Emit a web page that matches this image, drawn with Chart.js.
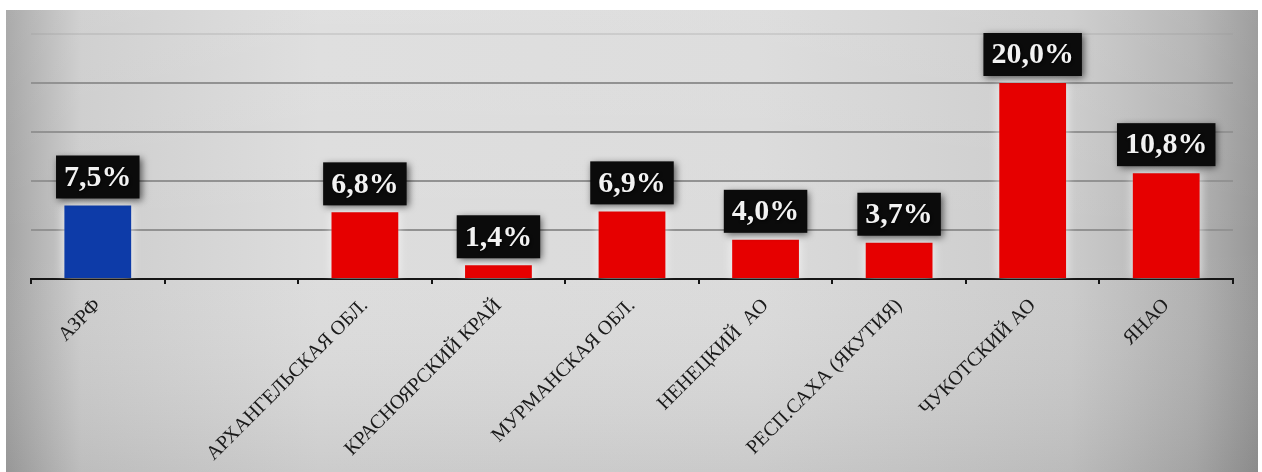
<!DOCTYPE html>
<html lang="ru">
<head>
    <meta charset="UTF-8">
    <title>Доля по регионам</title>
    <script src="https://cdn.jsdelivr.net/npm/chart.js"></script>
    <style>
        html, body {
            margin: 0;
            padding: 0;
            background: #ffffff;
        }
        #regionChart {
            display: block;
        }
    </style>
</head>
<body>
    <canvas id="regionChart" width="1262" height="472"></canvas>

    <script type="text/javascript">
        // регионы (пустая категория между АЗРФ и областями)
        const regions = ['АЗРФ', '', 'АРХАНГЕЛЬСКАЯ ОБЛ.', 'КРАСНОЯРСКИЙ КРАЙ', 'МУРМАНСКАЯ ОБЛ.',
            'НЕНЕЦКИЙ  АО', 'РЕСП.САХА (ЯКУТИЯ)', 'ЧУКОТСКИЙ АО', 'ЯНАО'];
        // значения, %
        const shares = [7.5, null, 6.8, 1.4, 6.9, 4.0, 3.7, 20.0, 10.8];
        // деления оси значений
        const yMax = 25;
        const yStep = 5;

        const BLUE = '#0d3ba8';
        const RED = '#e60000';

        // серый фон с затемнением по краям
        const backgroundPlugin = {
            id: 'grayBackground',
            beforeDraw(chart) {
                const ctx = chart.ctx;
                const W = chart.width, H = chart.height;
                ctx.save();
                ctx.fillStyle = '#ffffff';
                ctx.fillRect(0, 0, W, H);

                const x0 = 6, y0 = 10, x1 = 1258, y1 = H;
                const g = ctx.createLinearGradient(x0, 0, x1, 0);
                g.addColorStop(0, '#a4a4a4');
                g.addColorStop(0.06, '#cdcdcd');
                g.addColorStop(0.25, '#dddddd');
                g.addColorStop(0.6, '#dbdbdb');
                g.addColorStop(0.85, '#cbcbcb');
                g.addColorStop(0.95, '#b1b1b1');
                g.addColorStop(1, '#979797');
                ctx.fillStyle = g;
                ctx.fillRect(x0, y0, x1 - x0, y1 - y0);

                const v = ctx.createLinearGradient(0, y0, 0, y1);
                v.addColorStop(0, 'rgba(255,255,255,0.08)');
                v.addColorStop(0.5, 'rgba(255,255,255,0)');
                v.addColorStop(1, 'rgba(0,0,0,0.08)');
                ctx.fillStyle = v;
                ctx.fillRect(x0, y0, x1 - x0, y1 - y0);
                ctx.restore();
            }
        };

        // лёгкое свечение вокруг столбцов
        const glowPlugin = {
            id: 'barGlow',
            beforeDatasetsDraw(chart) {
                const ctx = chart.ctx;
                ctx.save();
                ctx.shadowColor = 'rgba(255,255,255,0.75)';
                ctx.shadowBlur = 10;
            },
            afterDatasetsDraw(chart) {
                chart.ctx.restore();
            }
        };

        // подписи значений в чёрных плашках
        const valueBoxPlugin = {
            id: 'valueBoxes',
            afterDatasetsDraw(chart) {
                const ctx = chart.ctx;
                const meta = chart.getDatasetMeta(0);
                meta.data.forEach((bar, i) => {
                    const v = shares[i];
                    if (v === null || v === undefined) return;
                    const text = v.toFixed(1).replace('.', ',') + '%';
                    ctx.save();
                    ctx.font = 'bold 30px "Liberation Serif", "Times New Roman", serif';
                    const w = ctx.measureText(text).width + 16;
                    const h = 43;
                    const bx = bar.x - w / 2;
                    const by = bar.y - 7 - h;

                    ctx.shadowColor = 'rgba(0,0,0,0.6)';
                    ctx.shadowBlur = 7;
                    ctx.shadowOffsetX = 2;
                    ctx.shadowOffsetY = 2;
                    ctx.fillStyle = '#0b0b0b';
                    ctx.fillRect(bx, by, w, h);

                    ctx.shadowColor = 'rgba(0,0,0,0.8)';
                    ctx.shadowBlur = 3;
                    ctx.shadowOffsetX = 1;
                    ctx.shadowOffsetY = 1;
                    ctx.fillStyle = '#f2f2f2';
                    ctx.textAlign = 'center';
                    ctx.textBaseline = 'middle';
                    ctx.fillText(text, bar.x, by + h / 2 + 1);
                    ctx.restore();
                });
            }
        };

        const ctx = document.getElementById('regionChart').getContext('2d');
        const regionChart = new Chart(ctx, {
            type: 'bar',
            data: {
                labels: regions,
                datasets: [{
                    data: shares,
                    backgroundColor: c => c.dataIndex === 0 ? BLUE : RED,
                    borderWidth: 0,
                    barPercentage: 0.5,
                    categoryPercentage: 1.0
                }]
            },
            options: {
                responsive: false,
                devicePixelRatio: 1,
                animation: false,
                layout: {
                    padding: { left: 31, right: 29, top: 34, bottom: 0 }
                },
                plugins: {
                    legend: { display: false },
                    tooltip: { enabled: false }
                },
                scales: {
                    x: {
                        afterFit(scale) {
                            scale.height = 193;
                        },
                        border: { display: true, color: '#151515', width: 2 },
                        grid: {
                            offset: true,
                            drawOnChartArea: false,
                            drawTicks: true,
                            tickLength: 5,
                            color: '#151515',
                            lineWidth: 2
                        },
                        ticks: {
                            autoSkip: false,
                            maxRotation: 45,
                            minRotation: 45,
                            padding: 10,
                            color: '#1a1a1a',
                            font: { family: '"Liberation Serif", "Times New Roman", serif', size: 20 }
                        }
                    },
                    y: {
                        min: 0,
                        max: yMax,
                        afterFit(scale) {
                            scale.width = 0;
                        },
                        border: { display: false },
                        grid: {
                            drawTicks: false,
                            color: c => c.tick && c.tick.value === yMax ? 'rgba(150,150,150,0.25)' : '#929292',
                            lineWidth: 2
                        },
                        ticks: {
                            display: false,
                            stepSize: yStep
                        }
                    }
                }
            },
            plugins: [backgroundPlugin, glowPlugin, valueBoxPlugin]
        });
    </script>
</body>
</html>
